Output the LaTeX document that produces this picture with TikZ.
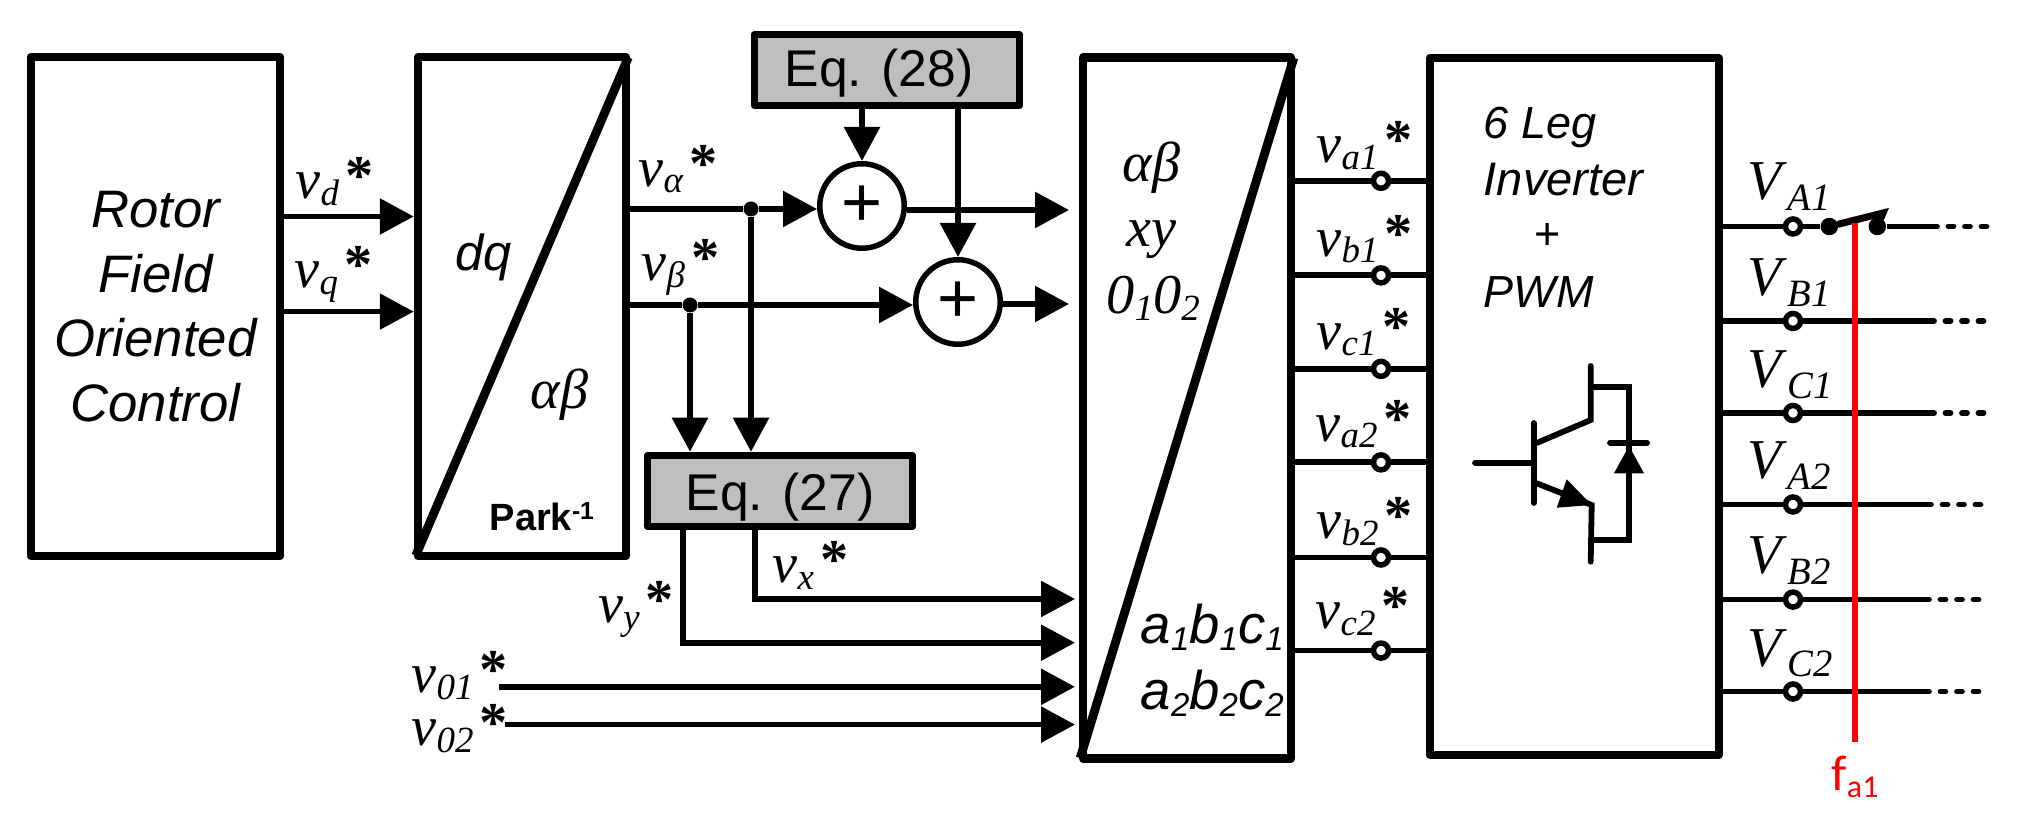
\documentclass[tikz,border=0pt]{standalone}
\usepackage{fontspec}
\usetikzlibrary{arrows.meta, positioning}

\newfontfamily\arialn{Liberation Sans}
\newfontfamily\timesx{Liberation Serif}
\newfontfamily\calibx{Carlito}
\newcommand{\sizept}[1]{\fontsize{#1}{#1}\selectfont}
\newcommand{\sig}[1]{{\timesx\sizept{16}\textit{v}\raisebox{-0.065cm}{\sizept{10.5}\textit{#1}}\kern0.06cm\raisebox{0.04cm}{\textbf{*}}}}
\newcommand{\volt}[1]{{\timesx\sizept{16}\textit{V}\raisebox{-0.105cm}{\sizept{11}\textit{#1}}}}

\begin{document}
\begin{tikzpicture}[
        x=1cm, y=-1cm,
        block/.style={draw, line width=0.085cm, line join=round, inner sep=0pt, align=center},
        eqblock/.style={block, fill=black!25, line width=0.075cm, minimum width=2.65cm, minimum height=0.71cm, text depth=0cm, font=\arialn\sizept{14.7}},
        sumnode/.style={circle, draw, line width=0.055cm, minimum size=0.845cm, inner sep=0pt, font=\arialn\sizept{20}},
        term/.style={circle, draw, fill=white, line width=0.055cm, minimum size=0.15cm, inner sep=0pt},
        dotnode/.style={circle, fill=black, minimum size=0.15cm, inner sep=0pt},
        swdot/.style={circle, fill=black, minimum size=0.175cm, inner sep=0pt},
        lab/.style={anchor=base west, inner sep=0pt},
        diag/.style={line width=0.088cm, shorten <=0.05cm, shorten >=0.05cm},
        wire/.style={line width=0.058cm},
        symb/.style={wire, line cap=round},
        arw/.style={wire, -{Triangle[length=0.34cm, width=0.35cm]}},
        dashline/.style={wire, line cap=round, dash pattern=on 0.05cm off 0.115cm}
    ]
        \useasboundingbox (0,0) rectangle (20.24,8.24);

        % Main blocks
        \node[block, minimum width=2.49cm, minimum height=4.99cm, font=\arialn\itshape\fontsize{15}{18.35}\selectfont] (foc) at (1.555,3.065)
            {Rotor\\Field\\Oriented\\Control};
        \node[block, minimum width=2.08cm, minimum height=4.99cm] (park) at (5.22,3.065) {};
        \node[block, minimum width=2.08cm, minimum height=7.01cm] (conv) at (11.87,4.08) {};
        \node[block, minimum width=2.89cm, minimum height=6.97cm] (inv) at (15.743,4.063) {};
        \node[eqblock, text height=0.334cm] (eq28) at (8.87,0.70) {Eq. (28)\hspace*{0.16cm}};
        \node[eqblock, text height=0.396cm] (eq27) at (7.80,4.91) {Eq. (27)};
        \node[sumnode] (sum1) at (8.62,2.06) {+};
        \node[sumnode] (sum2) at (9.58,3.02) {+};
        \draw[diag] (park.south west) -- (park.north east);
        \draw[diag] (conv.south west) -- (conv.north east);

        % Block texts
        \node[lab, font=\arialn\itshape\sizept{14.4}] (dq) at (4.55,2.706) {dq};
        \node[lab, font=\timesx\itshape\sizept{16}] (ab1) at (5.30,4.09) {αβ};
        \node[lab, font=\arialn\bfseries\sizept{10.8}] (parkinv) at (4.89,5.31) {Park\raisebox{0.11cm}{\sizept{7}-1}};
        \node[lab, font=\timesx\itshape\sizept{16}] (ab2) at (11.22,1.813) {αβ};
        \node[lab, font=\timesx\itshape\sizept{16}] (xy) at (11.26,2.47) {xy};
        \node[lab, font=\timesx\itshape\sizept{16}] (zeros) at (11.06,3.137) {0\raisebox{-0.07cm}{\sizept{10.5}1}0\raisebox{-0.07cm}{\sizept{10.5}2}};
        \node[lab, font=\arialn\itshape\sizept{15.5}] (abc1) at (11.40,6.437) {a\raisebox{-0.07cm}{\sizept{9.4}1}b\raisebox{-0.07cm}{\sizept{9.4}1}c\raisebox{-0.07cm}{\sizept{9.4}1}};
        \node[lab, font=\arialn\itshape\sizept{15.5}] (abc2) at (11.40,7.094) {a\raisebox{-0.07cm}{\sizept{9.4}2}b\raisebox{-0.07cm}{\sizept{9.4}2}c\raisebox{-0.07cm}{\sizept{9.4}2}};
        \node[lab, font=\arialn\itshape\sizept{12.8}] (leg) at (14.83,1.39) {6 Leg};
        \node[lab, font=\arialn\itshape\sizept{13.4}] (inverter) at (14.83,1.955) {Inverter};
        \node[lab, font=\arialn\sizept{12.8}] (plus) at (15.34,2.496) {+};
        \node[lab, font=\arialn\itshape\sizept{12.8}] (pwm) at (14.83,3.074) {PWM};

        % Inputs of the park block
        \coordinate (vd) at (3,2.165);
        \coordinate (vq) at (3,3.116);
        \draw[arw] (foc.east |- vd) -- (park.west |- vd);
        \draw[arw] (foc.east |- vq) -- (park.west |- vq);
        \node[lab] (vdlab) at (2.95,1.986) {\sig{d}};
        \node[lab] (vqlab) at (2.94,2.88) {\sig{q}};

        % Alpha and beta paths
        \node[dotnode] (ja) at (7.51,2.09) {};
        \node[dotnode] (jb) at (6.90,3.05) {};
        \draw[wire] (park.east |- ja) -- (ja);
        \draw[wire] (park.east |- jb) -- (jb);
        \draw[arw] (ja) -- (sum1.west |- ja);
        \draw[arw] (jb) -- (sum2.west |- jb);
        \draw[arw] (ja) -- (ja |- eq27.north);
        \draw[arw] (jb) -- (jb |- eq27.north);
        \node[lab] (valab) at (6.38,1.865) {\sig{α}};
        \node[lab] (vblab) at (6.41,2.81) {\sig{β}};

        % Eq. (28) into the adders
        \draw[arw] (eq28.south -| sum1) -- (sum1);
        \draw[arw] (eq28.south -| sum2) -- (sum2);
        \coordinate (oa) at (10.69,2.10);
        \coordinate (ob) at (10.69,3.04);
        \draw[arw] (sum1.east |- oa) -- (oa);
        \draw[arw] (sum2.east |- ob) -- (ob);

        % Inputs of the conversion block
        \coordinate (vxin) at (10.75,5.99);
        \coordinate (vyin) at (10.75,6.427);
        \coordinate (v01in) at (10.75,6.868);
        \coordinate (v02in) at (10.75,7.246);
        \coordinate (vxout) at (7.55,5.30);
        \coordinate (vyout) at (6.83,5.30);
        \coordinate (v01out) at (4.99,6.868);
        \coordinate (v02out) at (5.05,7.246);
        \draw[arw] (vxout) |- (vxin);
        \draw[arw] (vyout) |- (vyin);
        \draw[arw] (v01out) -- (v01in);
        \draw[arw] (v02out) -- (v02in);
        \node[lab] (vxlab) at (7.72,5.83) {\sig{x}};
        \node[lab] (vylab) at (5.976,6.227) {\sig{y}};
        \node[lab] (v01lab) at (4.11,6.926) {\sig{01}};
        \node[lab] (v02lab) at (4.11,7.46) {\sig{02}};

        % Reference voltages
        \node[term] (ta1) at (13.81,1.808) {};
        \node[term] (tb1) at (13.81,2.754) {};
        \node[term] (tc1) at (13.81,3.689) {};
        \node[term] (ta2) at (13.81,4.624) {};
        \node[term] (tb2) at (13.81,5.575) {};
        \node[term] (tc2) at (13.81,6.506) {};
        \draw[wire] (conv.east |- ta1) -- (ta1) -- (inv.west |- ta1);
        \draw[wire] (conv.east |- tb1) -- (tb1) -- (inv.west |- tb1);
        \draw[wire] (conv.east |- tc1) -- (tc1) -- (inv.west |- tc1);
        \draw[wire] (conv.east |- ta2) -- (ta2) -- (inv.west |- ta2);
        \draw[wire] (conv.east |- tb2) -- (tb2) -- (inv.west |- tb2);
        \draw[wire] (conv.east |- tc2) -- (tc2) -- (inv.west |- tc2);
        \node[lab] (va1lab) at (13.16,1.63) {\sig{a1}};
        \node[lab] (vb1lab) at (13.16,2.564) {\sig{b1}};
        \node[lab] (vc1lab) at (13.16,3.495) {\sig{c1}};
        \node[lab] (va2lab) at (13.15,4.414) {\sig{a2}};
        \node[lab] (vb2lab) at (13.16,5.386) {\sig{b2}};
        \node[lab] (vc2lab) at (13.15,6.29) {\sig{c2}};

        % Output phases
        \node[term] (tA1) at (17.93,2.265) {};
        \node[term] (tB1) at (17.93,3.21) {};
        \node[term] (tC1) at (17.93,4.13) {};
        \node[term] (tA2) at (17.93,5.045) {};
        \node[term] (tB2) at (17.93,5.996) {};
        \node[term] (tC2) at (17.93,6.915) {};
        \draw[wire] (inv.east |- tA1) -- (tA1);
        \draw[wire] (inv.east |- tB1) -- (tB1);
        \draw[wire] (inv.east |- tC1) -- (tC1);
        \draw[wire] (inv.east |- tA2) -- (tA2);
        \draw[wire] (inv.east |- tB2) -- (tB2);
        \draw[wire] (inv.east |- tC2) -- (tC2);
        \coordinate (eA1) at (19.32,2.265);
        \coordinate (eB1) at (19.29,3.21);
        \coordinate (eC1) at (19.29,4.13);
        \coordinate (eA2) at (19.26,5.045);
        \coordinate (eB2) at (19.24,5.996);
        \coordinate (eC2) at (19.24,6.915);
        \coordinate (dA1) at (19.88,2.265);
        \coordinate (dB1) at (19.86,3.21);
        \coordinate (dC1) at (19.86,4.13);
        \coordinate (dA2) at (19.82,5.045);
        \coordinate (dB2) at (19.82,5.996);
        \coordinate (dC2) at (19.81,6.915);
        \draw[wire] (tB1) -- (eB1);
        \draw[wire] (tC1) -- (eC1);
        \draw[wire] (tA2) -- (eA2);
        \draw[wire] (tB2) -- (eB2);
        \draw[wire] (tC2) -- (eC2);
        \draw[dashline] (eA1) -- (dA1);
        \draw[dashline] (eB1) -- (dB1);
        \draw[dashline] (eC1) -- (dC1);
        \draw[dashline] (eA2) -- (dA2);
        \draw[dashline] (eB2) -- (dB2);
        \draw[dashline] (eC2) -- (dC2);
        \node[lab] (VA1lab) at (17.47,1.997) {\volt{A1}};
        \node[lab] (VB1lab) at (17.47,2.958) {\volt{B1}};
        \node[lab] (VC1lab) at (17.47,3.878) {\volt{C1}};
        \node[lab] (VA2lab) at (17.47,4.79) {\volt{A2}};
        \node[lab] (VB2lab) at (17.47,5.738) {\volt{B2}};
        \node[lab] (VC2lab) at (17.47,6.663) {\volt{C2}};

        % Switch in phase A1
        \node[swdot] (sw1) at (18.293,2.265) {};
        \node[swdot] (sw2) at (18.773,2.265) {};
        \coordinate (bl) at (18.83,2.13);
        \draw[wire] (tA1) -- (sw1);
        \draw[wire] (sw2) -- (eA1);
        \draw[symb, line width=0.07cm] (sw1) -- (bl) -- (sw2);

        % Fault line
        \node[anchor=base, inner sep=0.14cm, text=red, font=\calibx\sizept{14.3}] (fa1) at (18.55,7.91) {f\raisebox{-0.07cm}{\sizept{9.1}a1}};
        \coordinate (ftop) at (18.55,2.23);
        \draw[red, line width=0.06cm] (ftop) -- (ftop |- fa1.north);

        % Transistor and diode
        \draw[symb] (14.75,4.627) -- (15.337,4.627);
        \draw[symb] (15.337,4.23) -- (15.337,5.03);
        \draw[symb] (15.367,4.43) -- (15.907,4.20) -- (15.907,3.66);
        \draw[symb] (15.367,4.833) -- (15.917,5.05) -- (15.907,5.617);
        \fill (15.667,4.793) -- (15.917,5.05) -- (15.567,5.077) -- cycle;
        \draw[symb] (15.907,3.867) -- (16.29,3.867) -- (16.29,5.40) -- (15.907,5.40);
        \draw[symb] (16.10,4.427) -- (16.47,4.427);
        \fill (16.29,4.46) -- (16.44,4.733) -- (16.14,4.733) -- cycle;
    \end{tikzpicture}
\end{document}
